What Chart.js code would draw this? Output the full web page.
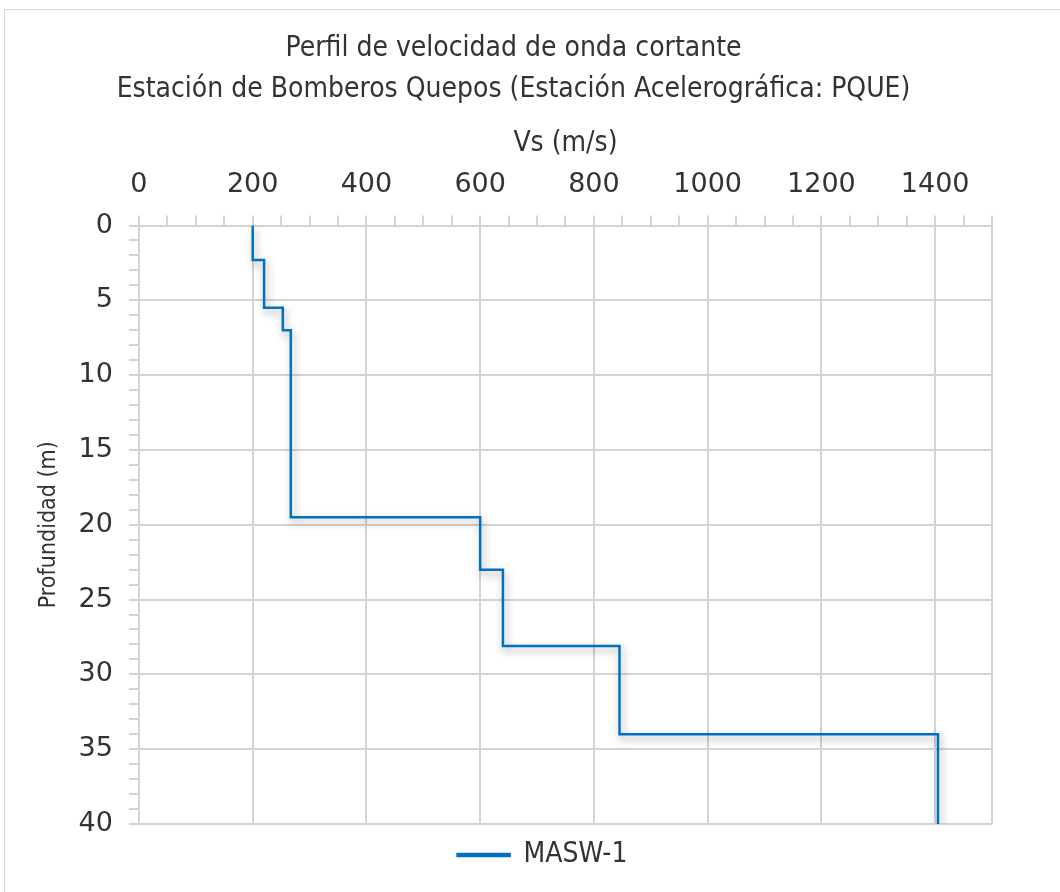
<!DOCTYPE html>
<html>
<head>
<meta charset="utf-8">
<script src="https://cdn.jsdelivr.net/npm/chart.js@4.4.1/dist/chart.umd.min.js"></script>
<style>
  html, body { margin: 0; padding: 0; background: #fff; }
  #wrap { position: relative; width: 1060px; height: 892px; overflow: hidden; }
  #frame { position: absolute; left: 4px; top: 9px; width: 1100px; height: 950px;
           border: 1px solid #d9d9d9; box-sizing: border-box; }
  canvas { position: absolute; left: 0; top: 0; }
</style>
</head>
<body>
<div id="wrap">
  <div id="frame"></div>
  <canvas id="chart" width="1060" height="892"></canvas>
</div>
<script>
// Shear-wave velocity profile, one layer per entry.
const layerVs = [200, 220, 253, 267, 600, 640, 845, 1405];        // m/s
const layerTop = [0, 2.3, 5.5, 7.0, 19.5, 23.0, 28.1, 34.0];       // m
const layerBottom = [2.3, 5.5, 7.0, 19.5, 23.0, 28.1, 34.0, 40.0]; // m

const titleLines = [
  "Perfil de velocidad de onda cortante",
  "Estación de Bomberos Quepos (Estación Acelerográfica: PQUE)",
];
const seriesName = "MASW-1";
const xTitle = "Vs (m/s)";
const yTitle = "Profundidad (m)";

// Build the stepped profile: each layer gives a vertical segment.
const profile = [];
layerVs.forEach(function (v, i) {
  profile.push({ x: v, y: layerTop[i] });
  profile.push({ x: v, y: layerBottom[i] });
});

const GRID = "#d4d4d4";
const TXT = "#333333";
const FONT = "'DejaVu Sans Condensed', 'DejaVu Sans', sans-serif";
const TICKFONT = "'DejaVu Sans', sans-serif";

// Excel-like soft shadow under the series line.
const lineShadow = {
  id: "lineShadow",
  beforeDatasetDraw(chart) {
    const ctx = chart.ctx;
    ctx.save();
    ctx.shadowColor = "rgba(0,0,0,0.38)";
    ctx.shadowBlur = 8;
    ctx.shadowOffsetX = 2;
    ctx.shadowOffsetY = 4;
  },
  afterDatasetDraw(chart) {
    chart.ctx.restore();
  },
};

// Legend sits a bit right of the canvas centre in the original.
const legendShift = {
  id: "legendShift",
  afterLayout(chart) {
    chart.legend.left += 29;
    chart.legend.right += 29;
  },
};

new Chart(document.getElementById("chart").getContext("2d"), {
  type: "scatter",
  data: {
    datasets: [{
      label: seriesName,
      data: profile,
      showLine: true,
      borderColor: "#0070C0",
      backgroundColor: "#0070C0",
      borderWidth: 2.5,
      pointRadius: 0,
      tension: 0,
    }],
  },
  plugins: [lineShadow, legendShift],
  options: {
    responsive: false,
    animation: false,
    layout: { padding: { left: 35, right: 68, top: 28, bottom: 13 } },
    plugins: {
      title: {
        display: true,
        text: titleLines,
        color: TXT,
        font: { family: FONT, size: 28, weight: "normal", lineHeight: 1.47 },
        padding: { top: 0, bottom: 13 },
      },
      legend: {
        position: "bottom",
        labels: {
          color: TXT,
          font: { family: FONT, size: 28 },
          boxWidth: 52,
          boxHeight: 2,
          padding: 17,
        },
      },
      tooltip: { enabled: false },
    },
    scales: {
      x: {
        type: "linear",
        position: "top",
        min: 0,
        max: 1500,
        title: {
          display: true,
          text: xTitle,
          color: TXT,
          font: { family: FONT, size: 28, lineHeight: 0.85 },
          padding: { top: 8, bottom: 0 },
        },
        ticks: {
          stepSize: 50,
          autoSkip: false,
          maxRotation: 0,
          color: TXT,
          font: { family: TICKFONT, size: 27 },
          padding: 14,
          callback: (v) => (v % 200 === 0 ? String(v) : ""),
        },
        grid: {
          color: (c) => (c.tick && (c.tick.value % 200 === 0 || c.tick.value === 1500)) ? GRID : "rgba(0,0,0,0)",
          tickColor: GRID,
          tickLength: 10,
          lineWidth: 2,
        },
        border: { color: GRID, width: 2 },
      },
      y: {
        type: "linear",
        reverse: true,
        min: 0,
        max: 40,
        title: {
          display: true,
          text: yTitle,
          color: TXT,
          font: { family: FONT, size: 23 },
          padding: { top: 0, bottom: 0 },
        },
        ticks: {
          stepSize: 1,
          autoSkip: false,
          color: TXT,
          font: { family: TICKFONT, size: 27 },
          padding: 16,
          callback: (v) => (v % 5 === 0 ? String(v) : ""),
        },
        grid: {
          color: (c) => (c.tick && c.tick.value % 5 === 0) ? GRID : "rgba(0,0,0,0)",
          tickColor: GRID,
          tickLength: 10,
          lineWidth: 2,
        },
        border: { color: GRID, width: 2 },
      },
    },
  },
});
</script>
</body>
</html>
